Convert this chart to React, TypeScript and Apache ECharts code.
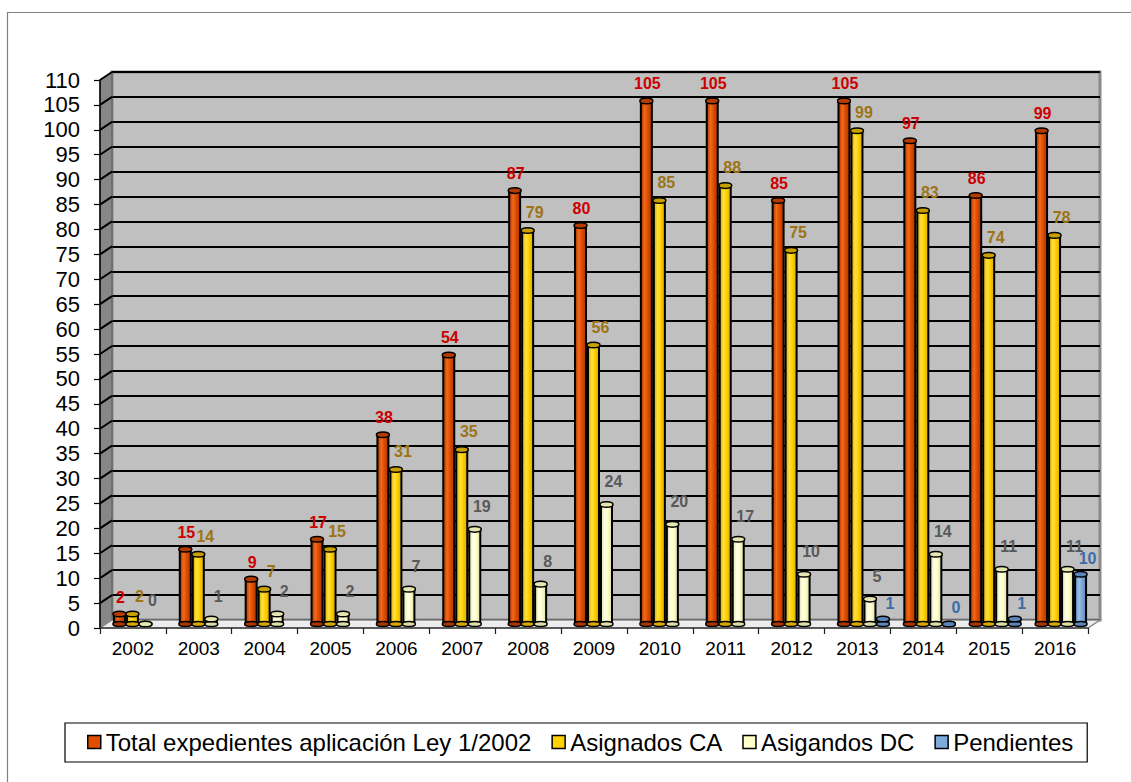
import React, { useEffect, useRef } from "react";
import * as echarts from "echarts";

const years = ["2002", "2003", "2004", "2005", "2006", "2007", "2008", "2009", "2010", "2011", "2012", "2013", "2014", "2015", "2016"];
const totalExpedientes = [2, 15, 9, 17, 38, 54, 87, 80, 105, 105, 85, 105, 97, 86, 99];
const asignadosCA = [2, 14, 7, 15, 31, 35, 79, 56, 85, 88, 75, 99, 83, 74, 78];
const asigandosDC = [0, 1, 2, 2, 7, 19, 8, 24, 20, 17, 10, 5, 14, 11, 11];
const pendientes: (number | null)[] = [null, null, null, null, null, null, null, null, null, null, null, 1, 0, 1, 10];
const seriesNames = ["Total expedientes aplicación Ley 1/2002", "Asignados CA", "Asigandos DC", "Pendientes"];
const yMin = 0;
const yMax = 110;
const yInterval = 5;

// layout
const FRONT = { left: 100, top: 80, width: 988, height: 548 };
const DX = 12;
const DY = 8;
const BAR_W = 13;

const COLORS = [
  { main: "#e04e00", dark: "#a83400", light: "#f26a1a", cap: "#b33a00", label: "#cc0000", lab: { dx: 1, dist: 9 } },
  { main: "#ffd200", dark: "#d9a800", light: "#ffe040", cap: "#c9a000", label: "#9c7416", lab: { dx: 7, dist: 10 } },
  { main: "#ffffcc", dark: "#dedea8", light: "#ffffe6", cap: "#e6e6b0", label: "#595959", lab: { dx: 7, dist: 15 } },
  { main: "#7eaadc", dark: "#5a86b8", light: "#9cc0e8", cap: "#5a86b8", label: "#3d6ba8", lab: { dx: 7, dist: 8 } },
];

export default function App() {
  const ref = useRef<HTMLDivElement>(null);
  useEffect(() => {
    if (!ref.current) return;
    const chart = echarts.init(ref.current, null, { renderer: "svg" });
    const data = [totalExpedientes, asignadosCA, asigandosDC, pendientes];
    const font = "Arial, 'Liberation Sans', sans-serif";

    const barSeries = data.map((vals, k) => ({
      name: seriesNames[k],
      type: "bar",
      xAxisIndex: 1,
      yAxisIndex: 1,
      barWidth: BAR_W,
      barGap: "0%",
      data: vals,
      z: 2,
      itemStyle: {
        color: new echarts.graphic.LinearGradient(0, 0, 1, 0, [
          { offset: 0, color: COLORS[k].dark },
          { offset: 0.35, color: COLORS[k].light },
          { offset: 0.6, color: COLORS[k].main },
          { offset: 1, color: COLORS[k].dark },
        ]),
        borderColor: "#000",
        borderWidth: 2,
      },
      label: {
        show: true,
        position: "top",
        distance: COLORS[k].lab.dist,
        offset: [COLORS[k].lab.dx, 0],
        color: COLORS[k].label,
        fontWeight: "bold",
        fontSize: 16,
        fontFamily: font,
      },
    }));

    const capSeries = data.map((vals, k) => ({
      type: "custom",
      xAxisIndex: 1,
      yAxisIndex: 1,
      silent: true,
      z: 3,
      data: vals.map((v, i) => (v == null ? null : [i, v])).filter((d) => d != null),
      renderItem: (params: any, api: any) => {
        const p = api.coord([api.value(0), api.value(1)]);
        const base = api.coord([api.value(0), 0]);
        const cx = p[0] + (k - 1.5) * BAR_W;
        return {
          type: "group",
          children: [
            {
              type: "ellipse",
              shape: { cx, cy: base[1], rx: BAR_W / 2, ry: 2.5 },
              style: { fill: COLORS[k].dark, stroke: "#000", lineWidth: 1.5 },
              z2: 1,
            },
            {
              type: "ellipse",
              shape: { cx, cy: p[1], rx: BAR_W / 2, ry: 2.8 },
              style: { fill: COLORS[k].cap, stroke: "#000", lineWidth: 1.5 },
              z2: 10,
            },
          ],
        };
      },
    }));

    const option: any = {
      animation: false,
      grid: [
        { ...FRONT },
        { left: FRONT.left + DX / 2, top: FRONT.top - DY / 2, width: FRONT.width, height: FRONT.height },
        {
          left: FRONT.left + DX,
          top: FRONT.top - DY,
          width: FRONT.width,
          height: FRONT.height,
          show: true,
          backgroundColor: "#c0c0c0",
          borderColor: "#8a8a8a",
          borderWidth: 3,
        },
      ],
      xAxis: [
        {
          gridIndex: 0,
          type: "category",
          data: years,
          boundaryGap: true,
          axisLine: { show: true, lineStyle: { color: "#404040", width: 1.5 } },
          axisTick: { show: true, length: 6, lineStyle: { color: "#202020", width: 1.2 } },
          axisLabel: { color: "#000", fontSize: 19, fontFamily: font, margin: 11 },
          splitLine: { show: false },
          z: 4,
        },
        { gridIndex: 1, type: "category", data: years, show: false },
        { gridIndex: 2, type: "category", data: years, show: false },
      ],
      yAxis: [
        {
          gridIndex: 0,
          type: "value",
          min: yMin,
          max: yMax,
          interval: yInterval,
          axisLine: { show: true, lineStyle: { color: "#000", width: 1.5 } },
          axisTick: { show: true, length: 6, lineStyle: { color: "#000", width: 1.2 } },
          axisLabel: { color: "#000", fontSize: 22, fontFamily: font, margin: 20 },
          splitLine: { show: false },
          z: 4,
        },
        { gridIndex: 1, type: "value", min: yMin, max: yMax, interval: yInterval, show: false },
        {
          gridIndex: 2,
          type: "value",
          min: yMin,
          max: yMax,
          interval: yInterval,
          axisLine: { show: false },
          axisTick: { show: false },
          axisLabel: { show: false },
          splitLine: { show: true, lineStyle: { color: "#000", width: 2 } },
        },
      ],
      legend: {
        left: 65,
        top: 723,
        orient: "horizontal",
        itemWidth: 13,
        itemHeight: 13,
        itemGap: 20,
        padding: [7, 14, 8, 22],
        borderColor: "#000",
        borderWidth: 1.2,
        selectedMode: false,
        icon: "rect",
        textStyle: { color: "#000", fontSize: 24, fontFamily: font },
        data: seriesNames.map((n, k) => ({
          name: n,
          itemStyle: { color: COLORS[k].main, borderColor: "#000", borderWidth: 1.5 },
        })),
      },
      series: [...barSeries, ...capSeries],
    };
    chart.setOption(option);

    // 3D walls (decoration) built from the axis scale
    const ticks: number[] = [];
    for (let v = yMin; v <= yMax; v += yInterval) ticks.push(v);
    const yPix = (v: number) => chart.convertToPixel({ yAxisIndex: 0 }, v) as number;
    const x0 = FRONT.left;
    const x1 = FRONT.left + FRONT.width;
    const yTop = yPix(yMax);
    const yBot = yPix(yMin);
    const graphics: any[] = [
      {
        type: "rect",
        shape: { x: 7.5, y: 12.5, width: 1200, height: 800 },
        style: { fill: "none", stroke: "#7f7f7f", lineWidth: 1.2 },
        silent: true,
        z: -10,
      },
      {
        type: "polygon",
        shape: { points: [[x0, yTop], [x0 + DX, yTop - DY], [x0 + DX, yBot - DY], [x0, yBot]] },
        style: { fill: "#878787", stroke: "#555", lineWidth: 1 },
        silent: true,
        z: 1,
      },
      {
        type: "polygon",
        shape: { points: [[x0, yBot], [x0 + DX, yBot - DY], [x1 + DX, yBot - DY], [x1, yBot]] },
        style: { fill: "#ececec", stroke: "#8a8a8a", lineWidth: 1.5 },
        silent: true,
        z: 1,
      },
    ];
    ticks.forEach((v) => {
      if (v === yMin) return;
      const y = yPix(v);
      graphics.push({
        type: "line",
        shape: { x1: x0, y1: y, x2: x0 + DX, y2: y - DY },
        style: { stroke: "#000", lineWidth: 2 },
        silent: true,
        z: 1,
      });
    });
    chart.setOption({ graphic: graphics });

    return () => chart.dispose();
  }, []);

  return (
    <div
      ref={ref}
      style={{ position: "fixed", left: 0, top: 0, width: 1131, height: 782, background: "#fff" }}
    />
  );
}
